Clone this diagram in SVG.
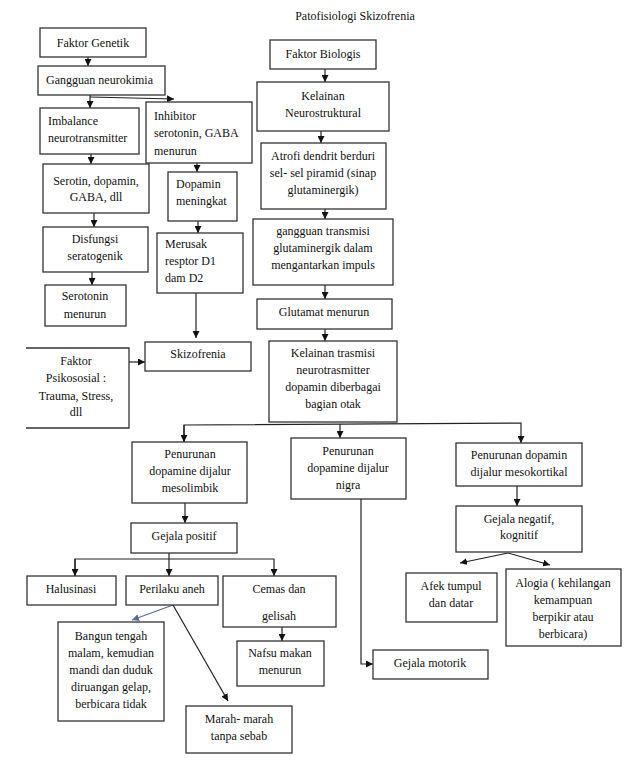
<svg xmlns="http://www.w3.org/2000/svg" width="634" height="777" viewBox="0 0 634 777">
<style>
.b{fill:#fff;stroke:#333;stroke-width:1.3}
.t{font-family:"Liberation Serif","Times New Roman",serif;font-size:12px;fill:#111}
.c{text-anchor:middle}
.l{fill:none;stroke:#222;stroke-width:1.2}
</style>
<defs>
<marker id="a" viewBox="0 0 8 8" refX="8" refY="4" markerWidth="7" markerHeight="7" markerUnits="userSpaceOnUse" orient="auto"><path d="M0,0L8,4L0,8z" fill="#111"/></marker>
<marker id="g" viewBox="0 0 8 8" refX="8" refY="4" markerWidth="7" markerHeight="7" markerUnits="userSpaceOnUse" orient="auto"><path d="M0,0L8,4L0,8z" fill="#5a6e8a"/></marker>
</defs>
<rect width="634" height="777" fill="#fff"/>
<text class="t c" x="355" y="20">Patofisiologi Skizofrenia</text>

<g id="connectors">
<line class="l" x1="88" y1="57" x2="88" y2="66" marker-end="url(#a)"/>
<line class="l" x1="90" y1="95" x2="90" y2="108" marker-end="url(#a)"/>
<line class="l" x1="90" y1="97" x2="174" y2="99" marker-end="url(#a)"/>
<line class="l" x1="91" y1="154" x2="91" y2="164" marker-end="url(#a)"/>
<line class="l" x1="197" y1="163" x2="197" y2="172" marker-end="url(#a)"/>
<line class="l" x1="94" y1="213" x2="94" y2="227" marker-end="url(#a)"/>
<line class="l" x1="92" y1="272" x2="92" y2="285" marker-end="url(#a)"/>
<line class="l" x1="198" y1="221" x2="198" y2="233" marker-end="url(#a)"/>
<line class="l" x1="196" y1="293" x2="196" y2="338" marker-end="url(#a)"/>
<line class="l" x1="129" y1="362" x2="145" y2="362" marker-end="url(#a)"/>
<line class="l" x1="325" y1="69" x2="325" y2="82" marker-end="url(#a)"/>
<line class="l" x1="321" y1="131" x2="321" y2="143" marker-end="url(#a)"/>
<line class="l" x1="325" y1="209" x2="325" y2="219" marker-end="url(#a)"/>
<line class="l" x1="325" y1="285" x2="325" y2="299" marker-end="url(#a)"/>
<line class="l" x1="325" y1="329" x2="325" y2="341" marker-end="url(#a)"/>
<polyline class="l" points="184,442 184,425 521,423 521,443" marker-end="url(#a)"/>
<line class="l" x1="184" y1="425" x2="184" y2="442" marker-end="url(#a)"/>
<line class="l" x1="340" y1="424" x2="340" y2="438" marker-end="url(#a)"/>
<line class="l" x1="185" y1="503" x2="185" y2="523" marker-end="url(#a)"/>
<line class="l" x1="169" y1="553" x2="169" y2="576" marker-end="url(#a)"/>
<polyline class="l" points="75,576 75,559 274,559 274,576" marker-end="url(#a)"/>
<line class="l" x1="75" y1="559" x2="75" y2="576" marker-end="url(#a)"/>
<line class="l" x1="282" y1="627" x2="282" y2="641" marker-end="url(#a)"/>
<line x1="173" y1="605" x2="132" y2="620" stroke="#5a6e8a" stroke-width="1.2" marker-end="url(#g)"/>
<line class="l" x1="173" y1="605" x2="228" y2="701" marker-end="url(#a)"/>
<polyline class="l" points="361,499 361,664 373,664" marker-end="url(#a)"/>
<line class="l" x1="517" y1="486" x2="517" y2="506" marker-end="url(#a)"/>
<line class="l" x1="508" y1="553" x2="460" y2="563" marker-end="url(#a)"/>
<line class="l" x1="508" y1="553" x2="550" y2="565" marker-end="url(#a)"/>
</g>

<g id="faktor-genetik"><rect class="b" x="40" y="28" width="106" height="29"/><text class="t c" x="93" y="47">Faktor Genetik</text></g>
<g id="gangguan-neurokimia"><rect class="b" x="38" y="66" width="127" height="29"/><text class="t" x="46" y="84">Gangguan neurokimia</text></g>
<g id="imbalance"><rect class="b" x="40" y="108" width="99" height="46"/><text class="t" x="48" y="125">Imbalance</text><text class="t" x="48" y="142">neurotransmitter</text></g>
<g id="inhibitor"><rect class="b" x="146" y="102" width="106" height="61"/><text class="t" x="154" y="120">Inhibitor</text><text class="t" x="154" y="137">serotonin, GABA</text><text class="t" x="154" y="155">menurun</text></g>
<g id="serotin"><rect class="b" x="43" y="164" width="106" height="49"/><text class="t c" x="96" y="185">Serotin, dopamin,</text><text class="t c" x="96" y="201">GABA, dll</text></g>
<g id="dopamin-meningkat"><rect class="b" x="168" y="172" width="69" height="49"/><text class="t" x="176" y="188">Dopamin</text><text class="t" x="176" y="205">meningkat</text></g>
<g id="disfungsi"><rect class="b" x="43" y="227" width="105" height="45"/><text class="t c" x="95" y="243">Disfungsi</text><text class="t c" x="95" y="260">seratogenik</text></g>
<g id="serotonin-menurun"><rect class="b" x="45" y="285" width="81" height="41"/><text class="t c" x="85" y="300">Serotonin</text><text class="t c" x="85" y="318">menurun</text></g>
<g id="merusak"><rect class="b" x="157" y="233" width="86" height="60"/><text class="t" x="165" y="248">Merusak</text><text class="t" x="165" y="265">resptor D1</text><text class="t" x="165" y="282">dam D2</text></g>
<g id="skizofrenia"><rect class="b" x="145" y="342" width="106" height="29"/><text class="t c" x="198" y="358">Skizofrenia</text></g>
<g id="faktor-psikososial"><path d="M26,348H129V428H26" fill="#fff" stroke="#333" stroke-width="1.3"/><text class="t c" x="76" y="365">Faktor</text><text class="t c" x="76" y="382">Psikososial :</text><text class="t c" x="76" y="400">Trauma, Stress,</text><text class="t c" x="76" y="416">dll</text></g>

<g id="faktor-biologis"><rect class="b" x="270" y="40" width="106" height="29"/><text class="t c" x="323" y="58">Faktor Biologis</text></g>
<g id="kelainan-neurostruktural"><rect class="b" x="257" y="82" width="132" height="49"/><text class="t c" x="323" y="100">Kelainan</text><text class="t c" x="323" y="117">Neurostruktural</text></g>
<g id="atrofi"><rect class="b" x="261" y="143" width="125" height="66"/><text class="t c" x="323" y="160">Atrofi dendrit berduri</text><text class="t c" x="323" y="177">sel- sel piramid (sinap</text><text class="t c" x="323" y="194">glutaminergik)</text></g>
<g id="gangguan-transmisi"><rect class="b" x="253" y="219" width="140" height="66"/><text class="t c" x="323" y="235">gangguan transmisi</text><text class="t c" x="323" y="252">glutaminergik dalam</text><text class="t c" x="323" y="269">mengantarkan impuls</text></g>
<g id="glutamat-menurun"><rect class="b" x="257" y="299" width="135" height="30"/><text class="t c" x="324" y="316">Glutamat menurun</text></g>
<g id="kelainan-trasmisi"><rect class="b" x="269" y="341" width="128" height="81"/><text class="t c" x="333" y="357">Kelainan trasmisi</text><text class="t c" x="333" y="374">neurotrasmitter</text><text class="t c" x="333" y="391">dopamin diberbagai</text><text class="t c" x="333" y="408">bagian otak</text></g>

<g id="mesolimbik"><rect class="b" x="132" y="442" width="115" height="61"/><text class="t c" x="190" y="458">Penurunan</text><text class="t c" x="190" y="475">dopamine dijalur</text><text class="t c" x="190" y="492">mesolimbik</text></g>
<g id="nigra"><rect class="b" x="291" y="438" width="115" height="61"/><text class="t c" x="348" y="455">Penurunan</text><text class="t c" x="348" y="472">dopamine dijalur</text><text class="t c" x="348" y="489">nigra</text></g>
<g id="mesokortikal"><rect class="b" x="456" y="443" width="126" height="43"/><text class="t c" x="519" y="459">Penurunan dopamin</text><text class="t c" x="519" y="476">dijalur mesokortikal</text></g>
<g id="gejala-positif"><rect class="b" x="131" y="523" width="106" height="30"/><text class="t c" x="184" y="540">Gejala positif</text></g>
<g id="gejala-negatif"><rect class="b" x="456" y="506" width="126" height="46"/><text class="t c" x="519" y="523">Gejala negatif,</text><text class="t c" x="519" y="539">kognitif</text></g>
<g id="halusinasi"><rect class="b" x="27" y="576" width="89" height="29"/><text class="t c" x="71" y="593">Halusinasi</text></g>
<g id="perilaku-aneh"><rect class="b" x="126" y="576" width="92" height="29"/><text class="t c" x="172" y="593">Perilaku aneh</text></g>
<g id="cemas"><rect class="b" x="223" y="576" width="113" height="51"/><text class="t c" x="279" y="593">Cemas dan</text><text class="t c" x="279" y="620">gelisah</text></g>
<g id="nafsu"><rect class="b" x="237" y="641" width="87" height="45"/><text class="t c" x="280" y="657">Nafsu makan</text><text class="t c" x="280" y="674">menurun</text></g>
<g id="bangun"><rect class="b" x="58" y="622" width="106" height="99"/><text class="t c" x="111" y="640">Bangun tengah</text><text class="t c" x="111" y="657">malam, kemudian</text><text class="t c" x="111" y="674">mandi dan duduk</text><text class="t c" x="111" y="691">diruangan gelap,</text><text class="t c" x="111" y="708">berbicara tidak</text></g>
<g id="marah"><rect class="b" x="186" y="706" width="106" height="47"/><text class="t c" x="239" y="723">Marah- marah</text><text class="t c" x="239" y="740">tanpa sebab</text></g>
<g id="gejala-motorik"><rect class="b" x="373" y="650" width="115" height="29"/><text class="t c" x="430" y="667">Gejala motorik</text></g>
<g id="afek"><rect class="b" x="406" y="573" width="91" height="49"/><text class="t c" x="451" y="590">Afek tumpul</text><text class="t c" x="451" y="607">dan datar</text></g>
<g id="alogia"><rect class="b" x="506" y="569" width="115" height="77"/><text class="t c" x="563" y="587">Alogia ( kehilangan</text><text class="t c" x="563" y="604">kemampuan</text><text class="t c" x="563" y="621">berpikir atau</text><text class="t c" x="563" y="638">berbicara)</text></g>
</svg>
